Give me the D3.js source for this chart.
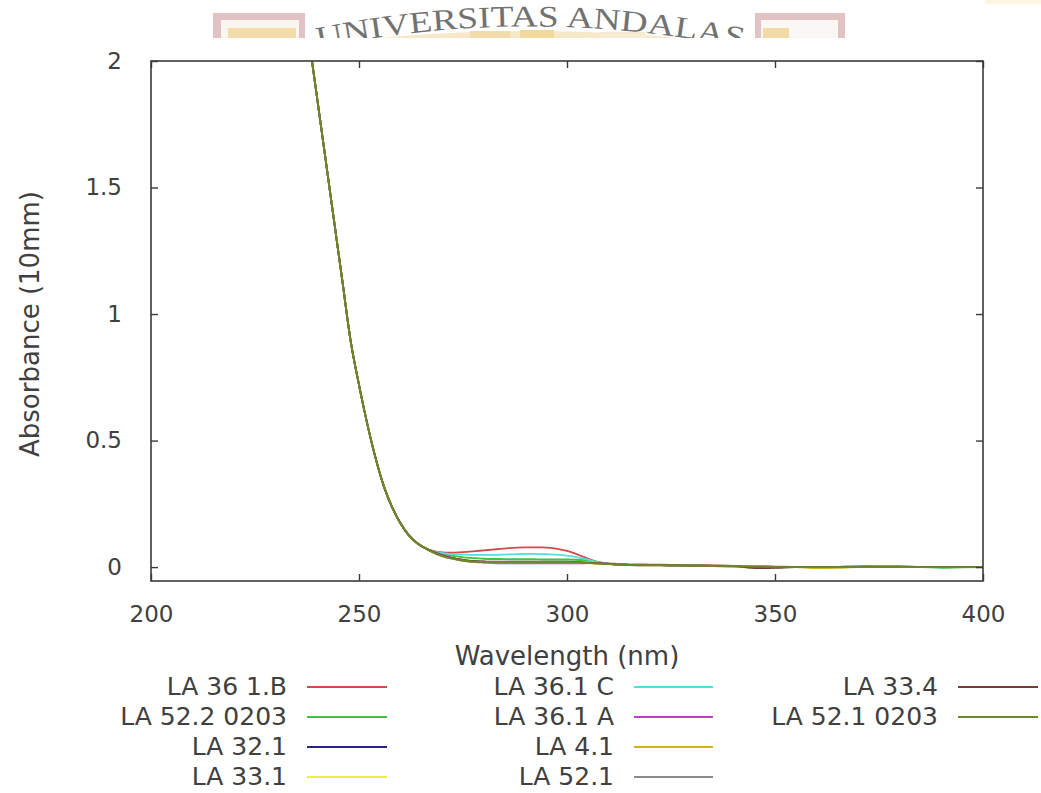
<!DOCTYPE html>
<html><head><meta charset="utf-8">
<script src="https://cdn.jsdelivr.net/npm/d3@7"></script>
<style>html,body{margin:0;padding:0;background:#fff;}svg{display:block;}</style>
</head><body>
<svg id="chart" width="1041" height="793"></svg>
<script>
// ---------- data ----------
const xTicks = [200, 250, 300, 350, 400];
const yTicks = [0, 0.5, 1, 1.5, 2];
const yTickLabels = ["0", "0.5", "1", "1.5", "2"];
const seriesNames = ["LA 36 1.B", "LA 52.2 0203", "LA 32.1", "LA 33.1", "LA 36.1 C", "LA 36.1 A", "LA 4.1", "LA 52.1", "LA 33.4", "LA 52.1 0203"];
const seriesColors = ["#d24a4a", "#3ec43e", "#262680", "#eeee44", "#55dcdc", "#c43cc4", "#d2b024", "#8c8c8c", "#7a3c34", "#6e8a28"];
// shared steep absorption edge (nm 236..266)
const headNm = [236, 238, 240, 242, 244, 246, 248, 250, 252, 254, 256, 258, 260, 262, 264, 266];
const headAbs = [2.32, 2.083, 1.845, 1.607, 1.369, 1.131, 0.893, 0.72, 0.565, 0.43, 0.318, 0.235, 0.172, 0.125, 0.094, 0.074];
// tails (nm 268..400)
const tailNm = [268, 270, 272, 274, 276, 278, 280, 282, 284, 286, 288, 290, 292, 294, 296, 298, 300, 302, 304, 306, 308, 310, 312, 315, 320, 325, 330, 335, 340, 345, 350, 355, 360, 365, 370, 375, 380, 385, 390, 395, 400];
const tailLA361B   = [0.063,0.058,0.057,0.058,0.060,0.063,0.066,0.069,0.072,0.075,0.077,0.078,0.078,0.078,0.076,0.071,0.064,0.053,0.040,0.028,0.019,0.015,0.013,0.011,0.010,0.009,0.008,0.007,0.005,0.003,0.002,0.001,0.001,0.001,0.001,0.001,0.001,0.001,0.000,0.000,0.000];
const tailLA5220203= [0.061,0.052,0.046,0.041,0.037,0.035,0.033,0.032,0.032,0.031,0.031,0.031,0.031,0.030,0.030,0.030,0.030,0.029,0.027,0.024,0.018,0.012,0.010,0.008,0.007,0.006,0.005,0.004,0.002,-0.002,-0.001,0.000,0.000,0.001,0.003,0.001,0.000,0.000,-0.003,-0.001,0.000];
const tailLA321    = [0.058,0.045,0.036,0.030,0.025,0.022,0.021,0.020,0.020,0.020,0.020,0.020,0.020,0.020,0.020,0.020,0.019,0.018,0.017,0.016,0.014,0.012,0.010,0.009,0.008,0.007,0.006,0.005,0.004,0.002,0.001,0.000,0.000,0.001,0.002,0.003,0.003,0.000,0.000,0.000,0.000];
const tailLA331    = [0.056,0.043,0.034,0.028,0.023,0.020,0.019,0.018,0.018,0.018,0.018,0.018,0.018,0.018,0.018,0.018,0.018,0.017,0.016,0.015,0.013,0.011,0.010,0.008,0.007,0.006,0.005,0.004,0.003,0.002,0.001,0.000,0.000,0.000,0.000,0.000,0.000,0.000,0.000,0.000,0.000];
const tailLA361C   = [0.062,0.055,0.052,0.050,0.049,0.048,0.048,0.048,0.049,0.050,0.051,0.052,0.052,0.051,0.050,0.048,0.045,0.040,0.033,0.025,0.018,0.013,0.011,0.009,0.008,0.007,0.006,0.005,0.004,0.002,0.001,0.001,0.000,0.000,0.000,0.000,0.000,0.000,0.000,0.000,0.000];
const tailLA361A   = [0.060,0.048,0.038,0.030,0.024,0.020,0.018,0.016,0.015,0.015,0.015,0.015,0.015,0.015,0.015,0.015,0.015,0.015,0.015,0.016,0.016,0.014,0.010,0.008,0.007,0.006,0.005,0.004,0.003,0.002,0.001,0.000,0.000,0.000,0.000,0.000,0.000,0.000,0.000,0.000,0.000];
const tailLA41     = [0.057,0.044,0.035,0.029,0.024,0.021,0.020,0.019,0.019,0.019,0.019,0.019,0.019,0.019,0.019,0.019,0.019,0.018,0.017,0.016,0.014,0.012,0.010,0.009,0.008,0.007,0.006,0.005,0.004,0.002,0.001,0.000,-0.004,-0.003,0.000,0.000,0.000,0.000,0.000,0.000,0.000];
const tailLA521    = [0.056,0.043,0.034,0.028,0.023,0.021,0.019,0.019,0.019,0.019,0.019,0.019,0.019,0.019,0.019,0.019,0.019,0.018,0.017,0.016,0.014,0.012,0.010,0.009,0.008,0.007,0.006,0.005,0.004,0.002,0.001,0.000,0.000,0.000,0.000,0.000,0.000,0.000,0.000,0.000,0.000];
const tailLA334    = [0.059,0.046,0.037,0.031,0.026,0.023,0.022,0.021,0.021,0.021,0.021,0.021,0.021,0.021,0.021,0.021,0.021,0.020,0.019,0.017,0.015,0.013,0.011,0.009,0.008,0.007,0.006,0.006,0.005,-0.004,-0.003,0.000,0.000,0.000,0.000,0.000,0.000,0.000,0.000,0.000,0.000];
const tailLA5210203= [0.057,0.044,0.035,0.029,0.024,0.021,0.020,0.020,0.020,0.020,0.020,0.020,0.020,0.020,0.020,0.020,0.020,0.019,0.018,0.016,0.014,0.012,0.010,0.009,0.008,0.007,0.006,0.005,0.004,0.002,0.001,0.000,0.000,0.000,0.000,0.000,0.000,0.000,0.000,0.000,0.000];
const seriesTails = [tailLA361B, tailLA5220203, tailLA321, tailLA331, tailLA361C, tailLA361A, tailLA41, tailLA521, tailLA334, tailLA5210203];

// ---------- layout ----------
const svg = d3.select("#chart");
const W = 1041, H = 793;
const plot = {left: 151, right: 983, top: 61, bottom: 581};
const textColor = "#404040";
const font = "'DejaVu Sans', Verdana, sans-serif";

// ---------- watermark (top) ----------
const wm = svg.append("g");
wm.append("rect").attr("x", 213).attr("y", 13).attr("width", 92).attr("height", 30).attr("fill", "#e2c2c2");
wm.append("rect").attr("x", 221).attr("y", 20).attr("width", 78).attr("height", 24).attr("fill", "#fbf5f0");
wm.append("rect").attr("x", 228).attr("y", 28).attr("width", 68).attr("height", 16).attr("fill", "#f3dcaa");
wm.append("rect").attr("x", 755).attr("y", 13).attr("width", 90).attr("height", 30).attr("fill", "#e2c2c2");
wm.append("rect").attr("x", 761).attr("y", 20).attr("width", 77).attr("height", 24).attr("fill", "#fbf7f5");
wm.append("rect").attr("x", 763).attr("y", 28).attr("width", 26).attr("height", 16).attr("fill", "#f1daa6");
wm.append("path").attr("d", "M 360 40 Q 530 22 700 40 L 700 44 L 360 44 Z").attr("fill", "#f6e8c8");
wm.append("rect").attr("x", 470).attr("y", 31).attr("width", 40).attr("height", 13).attr("fill", "#f3dcaa");
wm.append("rect").attr("x", 520).attr("y", 30).attr("width", 34).attr("height", 14).attr("fill", "#f1d89c");
wm.append("rect").attr("x", 600).attr("y", 32).attr("width", 46).attr("height", 12).attr("fill", "#f7ecd6");
wm.append("defs").append("path").attr("id", "wmArc").attr("d", "M 318 48 Q 532 4 752 50");
wm.append("text").attr("font-family", "'Liberation Serif', 'DejaVu Serif', serif").attr("font-size", 30)
  .attr("fill", "#727272")
  .append("textPath").attr("href", "#wmArc").attr("startOffset", "0")
  .attr("textLength", 428).attr("lengthAdjust", "spacingAndGlyphs")
  .text("UNIVERSITAS ANDALAS");
svg.append("rect").attr("x", 0).attr("y", 38).attr("width", W).attr("height", H - 38).attr("fill", "#fff");
svg.append("rect").attr("x", 985).attr("y", 0).attr("width", 56).attr("height", 4).attr("fill", "#fdf6e2");

// ---------- scales ----------
const x = d3.scaleLinear().domain([200, 400]).range([plot.left, plot.right]);
const y = d3.scaleLinear().domain([-0.055, 2]).range([plot.bottom, plot.top]);

// ---------- curves ----------
svg.append("clipPath").attr("id", "clip").append("rect")
  .attr("x", plot.left).attr("y", plot.top).attr("width", plot.right - plot.left).attr("height", plot.bottom - plot.top);
const allNm = headNm.concat(tailNm);
const line = d3.line().x(d => x(d[0])).y(d => y(d[1])).curve(d3.curveMonotoneX);
const gLines = svg.append("g").attr("clip-path", "url(#clip)");
seriesNames.forEach((name, i) => {
  const vals = headAbs.concat(seriesTails[i]);
  const pts = allNm.map((n, k) => [n, vals[k]]);
  gLines.append("path").attr("d", line(pts)).attr("fill", "none")
    .attr("stroke", seriesColors[i]).attr("stroke-width", 1.8);
});

// ---------- frame & ticks ----------
const frameColor = "#3a3a3a";
svg.append("rect").attr("x", plot.left).attr("y", plot.top).attr("width", plot.right - plot.left)
  .attr("height", plot.bottom - plot.top).attr("fill", "none").attr("stroke", frameColor).attr("stroke-width", 1.6);
const tickLen = 7;
const gBottom = svg.append("g").attr("transform", `translate(0,${plot.bottom})`)
  .call(d3.axisBottom(x).tickValues(xTicks).tickSize(-tickLen).tickPadding(tickLen + 18).tickFormat(d3.format("d")));
const gTop = svg.append("g").attr("transform", `translate(0,${plot.top})`)
  .call(d3.axisTop(x).tickValues(xTicks).tickSize(-tickLen).tickFormat(""));
const gLeft = svg.append("g").attr("transform", `translate(${plot.left},0)`)
  .call(d3.axisLeft(y).tickValues(yTicks).tickSize(-tickLen).tickPadding(tickLen + 22).tickFormat((d, i) => yTickLabels[i]));
const gRight = svg.append("g").attr("transform", `translate(${plot.right},0)`)
  .call(d3.axisRight(y).tickValues(yTicks).tickSize(-tickLen).tickFormat(""));
[gBottom, gTop, gLeft, gRight].forEach(g => {
  g.select(".domain").remove();
  g.selectAll(".tick line").attr("stroke", frameColor).attr("stroke-width", 1.4);
  g.selectAll(".tick text").attr("fill", textColor).attr("font-family", font).attr("font-size", 23);
});

// ---------- axis titles ----------
const titleSize = 26;
svg.append("text").attr("x", 567).attr("y", 656).attr("text-anchor", "middle").attr("dominant-baseline", "central")
  .attr("font-family", font).attr("font-size", titleSize).attr("fill", textColor).text("Wavelength (nm)");
svg.append("text").attr("transform", "translate(30,324) rotate(-90)").attr("text-anchor", "middle")
  .attr("dominant-baseline", "central").attr("font-family", font).attr("font-size", titleSize).attr("fill", textColor)
  .text("Absorbance (10mm)");

// ---------- legend ----------
const legCols = [{tx: 287, lx0: 307, lx1: 387}, {tx: 614, lx0: 634, lx1: 713}, {tx: 938, lx0: 958, lx1: 1038}];
const legRows = [686, 716, 746, 776];
const perCol = 4;
seriesNames.forEach((name, i) => {
  const c = legCols[Math.floor(i / perCol)], ry = legRows[i % perCol];
  svg.append("text").attr("x", c.tx).attr("y", ry).attr("text-anchor", "end").attr("dominant-baseline", "central")
    .attr("font-family", font).attr("font-size", 25).attr("fill", textColor).text(name);
  svg.append("line").attr("x1", c.lx0).attr("x2", c.lx1).attr("y1", ry + 1).attr("y2", ry + 1)
    .attr("stroke", seriesColors[i]).attr("stroke-width", 1.8);
});
</script>
</body></html>
